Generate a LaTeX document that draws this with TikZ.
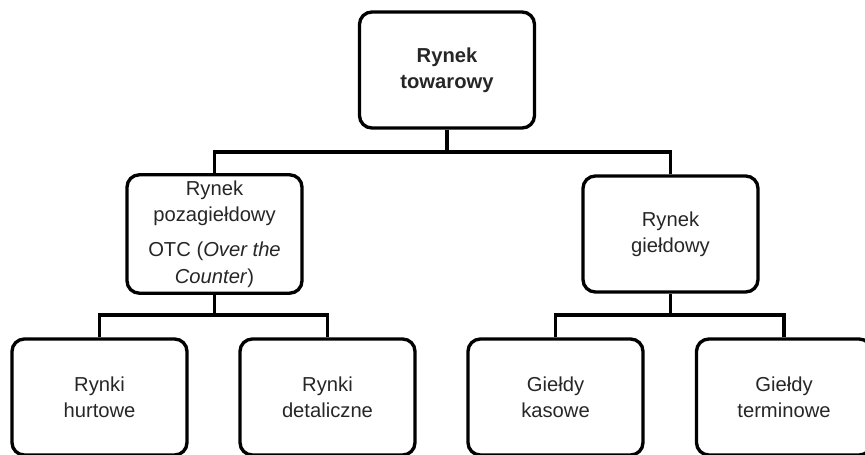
\documentclass[tikz,border=0pt]{standalone}
\usepackage{fontspec}
\setmainfont{Liberation Sans}
\definecolor{txtgray}{HTML}{262626}

\begin{document}
\begin{tikzpicture}[x=0.02cm,y=-0.02cm,
  box/.style={draw,line width=1.9pt,rounded corners=7pt,minimum width=3.5cm,minimum height=2.32cm,
    align=center,text=txtgray,font=\fontsize{11.5}{15}\selectfont},
  link/.style={line width=1.9pt}]
\useasboundingbox (0,0) rectangle (865,454);
\clip (0,0) rectangle (865,454);

\node[box,font=\fontsize{11.5}{15}\selectfont\bfseries] (top) at (447,70) {Rynek\\towarowy};

\node[box] (otc) at (214.5,234) {Rynek\\pozagiełdowy\\[5pt]OTC (\textit{Over the}\\\textit{Counter})};
\node[box] (gield) at (670.5,234) {Rynek\\giełdowy};

\node[box] (hurt) at (99.5,397) {Rynki\\hurtowe};
\node[box] (detal) at (327.5,397) {Rynki\\detaliczne};
\node[box] (kasa) at (555.5,397) {Giełdy\\kasowe};
\node[box] (term) at (784,397) {Giełdy\\terminowe};

\coordinate (bustop) at (447,152);
\coordinate (busotc) at (214.5,315);
\coordinate (busgield) at (670.5,315);

\draw[link] (top.south) -- (bustop);
\draw[link] (bustop) -| (otc.north);
\draw[link] (bustop) -| (gield.north);

\draw[link] (otc.south) -- (busotc);
\draw[link] (busotc) -| (hurt.north);
\draw[link] (busotc) -| (detal.north);

\draw[link] (gield.south) -- (busgield);
\draw[link] (busgield) -| (kasa.north);
\draw[link] (busgield) -| (term.north);
\end{tikzpicture}
\end{document}
